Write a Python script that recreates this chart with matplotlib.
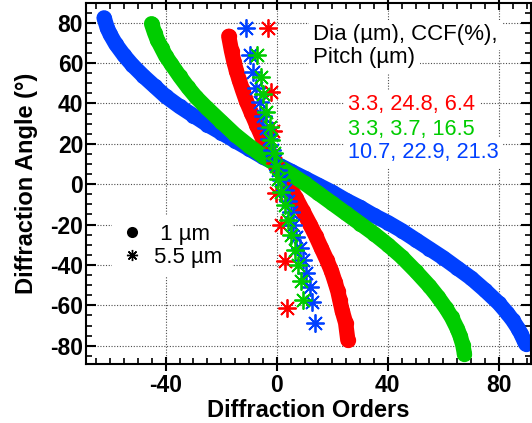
import matplotlib
matplotlib.use("Agg")
import matplotlib.pyplot as plt
from matplotlib.lines import Line2D
from matplotlib.ticker import MultipleLocator

plt.rcParams['font.family'] = ['Liberation Sans', 'DejaVu Sans']
plt.rcParams['axes.unicode_minus'] = False

RED = '#ff0000'
GREEN = '#00cc00'
BLUE = '#0040ff'

# 1 um wavelength (filled circles)
red_x = [-17.3, -16.3, -15.4, -14.5, -13.5, -12.3, -10.9, -9.2, -7.3, -4.9, -2.5, 0, 2.5,
         4.7, 7, 9.5, 12, 14, 16, 18, 19.7, 21, 22, 22.7, 23.6, 24.8, 25.6]
red_y = [73.3, 66, 60.5, 56, 51.5, 46.5, 41, 35.5, 29.5, 22, 15.5, 9.5, 3.5,
         -1.5, -7, -13.5, -20, -25.5, -31.5, -37.5, -43, -48.5, -53, -57.4, -62.9, -68.6, -77.2]

green_x = [-45.1, -44, -43, -41.5, -40, -38, -35, -32, -29, -25, -20, -15, -10, -5, 0, 5, 10,
           15, 20, 25, 30, 35, 40, 45, 50, 55, 58, 61, 63, 65, 66, 67, 67.6]
green_y = [79.5, 75, 71.5, 67.5, 63.5, 59.5, 53.5, 48, 43, 37.5, 31, 24.5, 19, 14, 9.5, 5, 0.5,
           -4.5, -9.5, -14.5, -19.5, -24.5, -30, -36, -43, -50.5, -55.7, -61.5, -66, -71.5, -75, -79.5, -84]

blue_x = [-62.2, -61, -60, -58, -55, -52, -48, -44, -40, -35, -30, -25, -20, -15, -10, -5, 0,
          5, 10, 15, 20, 25, 30, 35, 40, 45, 50, 55, 60, 65, 70, 75, 80, 83, 85, 87, 88, 89, 89.6]
blue_y = [82.4, 77.2, 74.2, 69.4, 63.8, 59, 53.5, 48.5, 43.5, 38.5, 34, 29.5, 25.5, 21.5, 17.5, 13.5, 10,
          6.5, 3, -0.5, -4, -8, -11.5, -15.5, -19, -23, -27.5, -32, -36.5, -41.5, -46.5, -52.5, -59,
          -63.8, -67.4, -71.6, -74.2, -77.2, -79]

# 5.5 um wavelength (asterisks)
red_sx = [-3.3, -2.2, -1.3, -0.8, -0.4, 1.7, 2.8, 3.7]
red_sy = [77.6, 45.5, 26.4, 10.5, -4.5, -20.3, -37.8, -61.5]

green_sx = [-7.2, -5.8, -4.9, -3.7, -2.6, -1.9, -1.0, -0.2, 0.6, 1.7, 2.9, 4.0, 5.2, 6.4, 7.7, 8.6, 9.5]
green_sy = [63.9, 53.1, 44.5, 36, 28.4, 21.8, 15.5, 9, 2.5, -4, -10.5, -17.5, -25, -32.5, -40, -48, -57.4]

blue_sx = [-10.9, -9.7, -8.5, -7.3, -6.2, -5.0, -3.9, -2.8, -1.6, -0.5, 0.6, 1.7, 2.8, 3.9,
           5.0, 6.0, 7.1, 8.3, 9.5, 10.7, 11.9, 12.8, 13.7]
blue_sy = [77.6, 63.9, 55.6, 47.4, 40.5, 34, 28, 22.5, 17, 12, 7, 2, -3, -8.5,
           -14, -20, -26.1, -31.8, -37.6, -43.9, -50.8, -58.3, -68.7]

params = ['3.3, 24.8, 6.4', '3.3, 3.7, 16.5', '10.7, 22.9, 21.3']

fig = plt.figure(figsize=(5.32, 4.23), dpi=100)
ax = fig.add_axes([0.1617, 0.1388, 0.8355, 0.8534])

# circles: thick line + markers gives the solid band
for xs, ys, c in [(red_x, red_y, RED), (blue_x, blue_y, BLUE), (green_x, green_y, GREEN)]:
    ax.plot(xs, ys, '-o', color=c, lw=11, ms=11, mew=0,
            solid_capstyle='round', solid_joinstyle='round', zorder=2)

for xs, ys, c in [(red_sx, red_sy, RED), (blue_sx, blue_sy, BLUE), (green_sx, green_sy, GREEN)]:
    ax.plot(xs, ys, ls='none', marker=(8, 2, 0), ms=13, mew=1.3, color=c, zorder=3)

ax.set_xlim(-68.7, 91.4)
ax.set_ylim(-89.2, 89.6)
ax.xaxis.set_major_locator(MultipleLocator(40))
ax.xaxis.set_minor_locator(MultipleLocator(5))
ax.yaxis.set_major_locator(MultipleLocator(20))
ax.yaxis.set_minor_locator(MultipleLocator(5))

ax.grid(True, which='major', ls=(0, (1, 1.5)), lw=0.8, color='0.3')
ax.set_axisbelow(True)

for s in ax.spines.values():
    s.set_linewidth(1.5)
ax.tick_params(which='both', top=True, right=True, width=1.5, labelsize=16.5)
ax.tick_params(axis='y', which='major', direction='in', length=7.5, pad=2)
ax.tick_params(axis='y', which='minor', direction='in', length=4, width=1.2)
ax.tick_params(axis='x', which='major', direction='inout', length=10.5, pad=2)
ax.tick_params(axis='x', which='minor', direction='in', length=4, width=1.2)
for lab in ax.get_xticklabels() + ax.get_yticklabels():
    lab.set_fontweight('bold')

ax.set_xlabel('Diffraction Orders', fontsize=17, fontweight='bold', labelpad=1)
ax.set_ylabel('Diffraction Angle (°)', fontsize=17, fontweight='bold', labelpad=9)

box = dict(boxstyle='square,pad=0.2', fc='white', ec='none')
ax.text(0.511, 0.898, 'Dia (µm), CCF(%),', transform=ax.transAxes, fontsize=16,
        va='baseline', ha='left', bbox=box, zorder=5)
ax.text(0.511, 0.834, 'Pitch (µm)', transform=ax.transAxes, fontsize=16,
        va='baseline', ha='left', bbox=box, zorder=5)
for txt, c, yb in zip(params, [RED, GREEN, BLUE], [0.704, 0.635, 0.571]):
    ax.text(0.590, yb, txt, transform=ax.transAxes, fontsize=15.7, color=c,
            va='baseline', ha='left', bbox=box, zorder=5)

handles = [Line2D([], [], ls='none', marker='o', ms=8, mew=0, color='k'),
           Line2D([], [], ls='none', marker=(8, 2, 0), ms=8, mew=1.0, color='k')]
leg = ax.legend(handles, [' 1 µm', '5.5 µm'], loc='upper left', bbox_to_anchor=(0.059, 0.414),
                fontsize=16, frameon=True, fancybox=False, framealpha=1, edgecolor='none',
                handlelength=1.0, handletextpad=0.5, labelspacing=0.1, borderpad=0.4,
                borderaxespad=0)
leg.set_zorder(5)

fig.savefig('out.png', dpi=100)
